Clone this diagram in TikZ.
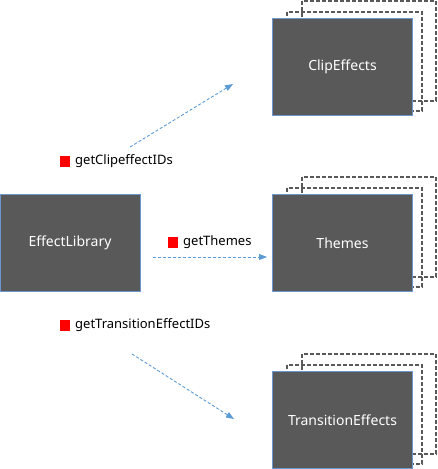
\documentclass[tikz,border=0pt]{standalone}
\usepackage{fontspec}
\setmainfont{Noto Sans}
\usetikzlibrary{arrows.meta}
\definecolor{boxgray}{HTML}{595959}
\definecolor{edgeblue}{HTML}{6A98CC}
\definecolor{arrblue}{HTML}{5B9BD5}
\begin{document}
\begin{tikzpicture}[x=1pt,y=-1pt,
  mainbox/.style={draw=edgeblue, line width=0.9pt, fill=boxgray, text=white,
    minimum width=140pt, minimum height=97pt, inner sep=0pt,
    font=\fontsize{14}{16}\selectfont},
  backbox/.style={draw=boxgray, line width=1.3pt, dash pattern=on 4pt off 2pt},
  flow/.style={draw=arrblue, line width=0.9pt, dash pattern=on 3pt off 2pt,
    -{Triangle[length=8pt,width=6pt]}},
  marker/.style={fill=red, minimum width=10pt, minimum height=11pt, inner sep=0pt},
  lbl/.style={anchor=west, inner sep=0pt, font=\fontsize{13}{15}\selectfont}
]
\useasboundingbox (0,0) rectangle (437,469);

% back stacks (drawn first, front boxes occlude them)
\foreach \cy in {67,243,420}{
  \draw[backbox] (302,\cy-66) rectangle (436,\cy+34);
  \draw[backbox] (287,\cy-55) rectangle (422,\cy+44);
}

\node[mainbox] (lib) at (70,243) {EffectLibrary};
\node[mainbox] (clip) at (342.5,67) {ClipEffects};
\node[mainbox] (themes) at (342.5,243) {Themes};
\node[mainbox] (trans) at (342.5,420) {TransitionEffects};

\coordinate (c1s) at (130,147);
\coordinate (c1e) at (233,84);
\coordinate (c2s) at (153,257);
\coordinate (c2e) at (267,257);
\coordinate (c3s) at (132,354);
\coordinate (c3e) at (234,419);
\draw[flow] (c1s) -- (c1e);
\draw[flow] (c2s) -- (c2e);
\draw[flow] (c3s) -- (c3e);

\node[marker] (m1) at (65,161.5) {};
\node[lbl] (l1) at (75,161.5) {getClipeffectIDs};
\node[marker] (m2) at (173,242.5) {};
\node[lbl] (l2) at (183,242.5) {getThemes};
\node[marker] (m3) at (65,325.5) {};
\node[lbl] (l3) at (75,325.5) {getTransitionEffectIDs};
\end{tikzpicture}
\end{document}
